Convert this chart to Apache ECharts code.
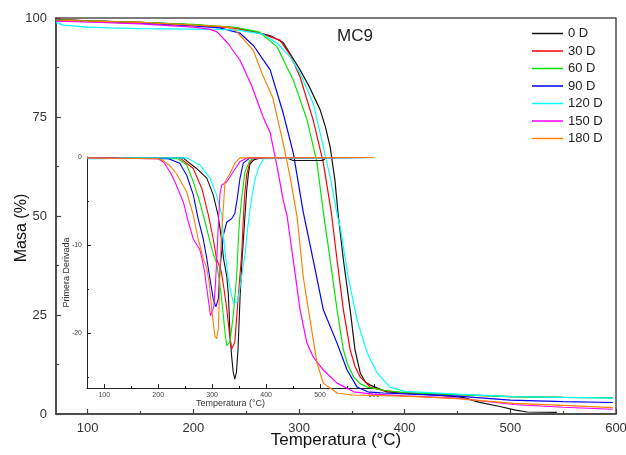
<!DOCTYPE html>
<html><head><meta charset="utf-8">
<script src="https://cdn.jsdelivr.net/npm/echarts@6/dist/echarts.min.js"></script>
<style>html,body{margin:0;padding:0;background:#fff}#c{width:626px;height:455px}</style>
</head><body><div id="c"></div><script>
const seriesNames = ['0 D','30 D','60 D','90 D','120 D','150 D','180 D'];

// Main TGA curves: [temperature °C, mass %]
const tga0D = [[70,99.6],[100,99.3],[150,98.9],[200,98.3],[240,97.6],[263,96.2],[273,95.5],[285,93.8],[301,86.9],[310,82.5],[320,76.8],[325,72.5],[329.5,67.4],[334,59],[337,50.5],[342,38.9],[348.4,26.3],[353,16.2],[358,10.3],[363,8],[367.4,7.3],[383,5.6],[400,5.3],[440,4.6],[455,4.2],[470,3],[490,1.9],[505,1],[516,0.5],[544,0.4]];
const tga30D = [[70,99.7],[100,99.3],[150,98.9],[200,98.3],[240,97.4],[265,96],[282,94.4],[292,90.5],[301,85.1],[313.4,74.2],[323,63.4],[330.5,51],[336,38.9],[342,26.3],[348.4,16.2],[353,12],[358,9.3],[367.4,6.8],[380,5.9],[400,5.3],[450,4.9],[500,4.4],[550,4.2],[597,4.1]];
const tga60D = [[70,99.6],[100,99.3],[150,98.9],[200,98.4],[240,97.6],[262,96.5],[279.3,92.7],[294.6,84.3],[307.7,74.2],[317,63.4],[323,51],[329.5,38.9],[336,26.3],[342,16.2],[346,12.5],[351.8,9.3],[358,7.6],[364.5,6.8],[380,6],[400,5.4],[450,4.9],[500,4.4],[550,4.2],[597,4.1]];
const tga90D = [[70,99.5],[100,99.1],[150,98.7],[200,98],[225,97.5],[244,96.2],[257,93],[272.7,86.9],[285,76],[294.6,65.9],[304,51],[313.4,38.9],[323,26.3],[336,17.9],[345.5,11.1],[355,6.8],[365,5.6],[380,5.3],[400,5.1],[450,4.5],[500,3.5],[550,3.1],[597,2.9]];
const tga120D = [[70,98.9],[77,98.2],[100,97.7],[121,97.5],[150,97.3],[200,97.2],[240,97],[265,96],[280,93.5],[291.6,90.2],[301,86],[313.4,78.5],[323,67.4],[329.5,59.8],[336,50.5],[339,47.2],[346.5,34.6],[355,23.7],[364.5,15.4],[374,10.3],[386.3,6.8],[400,5.7],[450,5],[500,4.4],[550,4.2],[597,4.0]];
const tga150D = [[70,99.2],[100,99],[150,98.5],[200,97.7],[215,97.2],[222.5,96.5],[233,93.5],[244,89.4],[255,83],[266,75],[272.7,71],[279.3,62.4],[285,54],[288.7,50],[294.5,38.9],[301,26.3],[307.5,17.9],[313.4,14.4],[323,11.1],[336,7.8],[351.8,5.6],[370,5],[400,4.6],[450,4],[503,2.4],[550,1.7],[597,1.2]];
const tga180D = [[70,99.5],[100,99.2],[150,98.9],[200,98.2],[225,97.9],[237.6,97.5],[248,94.5],[256.6,91.9],[265,86],[275,80],[285,68.4],[291.6,59.8],[298.2,49.7],[304,34.6],[310.5,23.7],[317,12.9],[323,7.8],[336,5.3],[350,4.8],[400,4.5],[450,3.9],[503,2.7],[550,2.2],[597,1.6]];

// Inset DTG curves: [temperature °C, first derivative]
const dtg0D = [[68,-0.1],[150,-0.1],[246,-0.1],[271,-1.3],[290,-2.4],[302,-4.3],[311,-6.6],[318,-9.6],[321,-11.5],[327,-13.5],[330,-15.5],[333,-19.9],[336,-22.5],[339,-24.4],[342,-25.2],[345,-24.4],[348,-21.8],[351.6,-16.1],[355,-12],[358,-9.3],[361,-6.5],[364,-3.8],[367,-2],[370,-0.8],[378,-0.3],[390,-0.1],[440,-0.15],[450,-0.4],[505,-0.4],[512,-0.05],[600,-0.05]];
const dtg30D = [[68,-0.1],[240,-0.1],[265,-1.3],[281,-3.6],[293,-6.6],[302,-9.3],[308,-11.5],[317,-13],[322,-15],[327,-17.2],[333,-20.6],[336,-21.8],[342,-21],[348,-16.1],[354.7,-11],[357,-8],[360,-4.5],[364,-2],[370,-0.6],[380,-0.1],[600,-0.05]];
const dtg60D = [[68,-0.1],[237,-0.2],[253,-0.9],[265,-2.8],[277,-5.1],[287,-7.4],[296,-9.6],[302,-11],[308,-12],[313,-13.8],[317.6,-16.1],[323.8,-19.9],[327,-21.4],[333,-21],[339,-18],[345.5,-13.4],[348.5,-9.5],[351,-7],[354.7,-4.7],[360.8,-1.7],[370,-0.4],[380,-0.1],[600,-0.05]];
const dtg90D = [[68,-0.1],[219,-0.2],[240,-0.7],[253,-2.1],[265,-4.3],[274,-7],[283.5,-9.3],[290,-11.5],[293,-12.7],[302,-16.1],[307,-17],[311.4,-16.1],[314.5,-12.7],[320.6,-8.9],[327,-7.4],[336,-7],[342,-6.4],[346.6,-4.7],[351.6,-2.4],[357.7,-0.7],[370,-0.1],[600,-0.05]];
const dtg120D = [[68,-0.2],[100,-0.2],[130,-0.1],[253,-0.1],[277,-0.9],[296,-2.4],[308,-4.3],[318,-6.6],[321,-9],[325,-11.5],[330,-13.8],[335,-15.5],[340,-16.6],[343,-16.8],[347,-16.4],[351.6,-14.8],[356,-13],[361,-11],[365,-8.5],[370,-6],[375,-4],[381,-2.2],[386,-1.2],[395,-0.2],[600,-0.05]];
const dtg150D = [[68,-0.1],[200,-0.2],[210,-0.6],[222,-1.7],[231,-2.8],[246.5,-5.1],[256,-7.4],[265,-9.3],[277,-10.5],[281,-11.5],[286,-13],[290,-14.9],[297,-18],[299,-18.2],[303,-17],[306,-14.5],[309,-11],[312,-7],[314.5,-4.2],[317.6,-3.2],[327,-2.8],[339,-1.7],[351.6,-0.5],[365,-0.1],[600,-0.05]];
const dtg180D = [[68,-0.1],[200,-0.2],[209,-0.4],[222,-1],[234,-1.9],[253,-4],[265,-6.6],[274,-9.3],[283.5,-11.5],[290,-12.6],[295,-14.5],[299,-17.2],[305,-20.3],[308.4,-20.6],[311.4,-19.5],[313.2,-16.1],[314.5,-12.3],[317.6,-8.5],[320.6,-5.9],[323.8,-2.8],[333,-1.9],[342,-0.7],[351.6,-0.1],[600,-0.05]];

const mainXTicks = [100,200,300,400,500,600];
const mainXMinor = [150,250,350,450,550];
const mainYTicks = [0,25,50,75,100];
const insetXTicks = [100,200,300,400,500,600];
const insetXMinor = [150,250,350,450,550];
const insetYTicks = [-20,-10,0];
const insetYMinor = [-25,-15,-5];
const chartTitle = 'MC9';

const tgaData = [tga0D,tga30D,tga60D,tga90D,tga120D,tga150D,tga180D];
const dtgData = [dtg0D,dtg30D,dtg60D,dtg90D,dtg120D,dtg150D,dtg180D];
const colors = ['#111111','#ff0000','#00e600','#0000ff','#00ffff','#ff00ff','#ff8000'];

const FONT = 'Liberation Sans, Arial, sans-serif';
const axisCol = '#404040';

const series = [];
tgaData.forEach((d,i)=>{
  series.push({name:seriesNames[i],type:'line',xAxisIndex:0,yAxisIndex:0,data:d,showSymbol:false,symbol:'none',
    itemStyle:{color:colors[i]},lineStyle:{color:colors[i],width:1.2},z:2});
});
dtgData.forEach((d,i)=>{
  series.push({name:seriesNames[i],type:'line',xAxisIndex:2,yAxisIndex:1,data:d,showSymbol:false,symbol:'none',
    itemStyle:{color:colors[i]},lineStyle:{color:colors[i],width:1.1},z:3});
});

const chart = echarts.init(document.getElementById('c'),null,{renderer:'canvas'});
chart.setOption({
  animation:false,
  backgroundColor:'#fff',
  textStyle:{fontFamily:FONT},
  grid:[
    {left:56,top:18,right:10,bottom:41,show:true,borderColor:'#505050',borderWidth:1.5,backgroundColor:'transparent',containLabel:false,outerBoundsMode:'none'},
    {left:87,top:157,width:287,height:231,containLabel:false,outerBoundsMode:'none'}
  ],
  xAxis:[
    {gridIndex:0,type:'value',min:70,max:600,position:'bottom',
     axisLine:{onZero:false,lineStyle:{color:axisCol,width:1.5}},
     axisTick:{inside:true,length:5,customValues:mainXTicks,lineStyle:{color:axisCol,width:1.2}},
     axisLabel:{customValues:mainXTicks,fontSize:13,color:'#333',margin:8,fontFamily:FONT},
     splitLine:{show:false},
     name:'Temperatura (°C)',nameLocation:'middle',nameGap:18,nameMoveOverlap:false,
     nameTextStyle:{fontSize:17,color:'#111',fontFamily:FONT}},
    {gridIndex:0,type:'value',min:70,max:600,position:'bottom',offset:0,
     axisLine:{show:false,onZero:false},
     axisTick:{inside:true,length:3,customValues:mainXMinor,lineStyle:{color:axisCol,width:1.2}},
     axisLabel:{show:false},splitLine:{show:false}},
    {gridIndex:1,type:'value',min:68,max:600,position:'bottom',
     axisLine:{onZero:false,lineStyle:{color:'#222',width:1}},
     axisTick:{inside:true,length:4,customValues:insetXTicks,lineStyle:{color:'#222'}},
     axisLabel:{customValues:insetXTicks,fontSize:7,color:'#444',margin:4,fontFamily:FONT},
     splitLine:{show:false},
     name:'Temperatura (°C)',nameLocation:'middle',nameGap:11,nameMoveOverlap:false,
     nameTextStyle:{fontSize:9,color:'#333',fontFamily:FONT}},
    {gridIndex:1,type:'value',min:68,max:600,position:'bottom',offset:0,
     axisLine:{show:false,onZero:false},
     axisTick:{inside:true,length:2,customValues:insetXMinor,lineStyle:{color:'#222'}},
     axisLabel:{show:false},splitLine:{show:false}}
  ],
  yAxis:[
    {gridIndex:0,type:'value',min:0,max:100,interval:25,
     axisLine:{show:true,onZero:false,lineStyle:{color:axisCol,width:1.5}},
     axisTick:{show:true,inside:true,length:5,lineStyle:{color:axisCol,width:1.2}},
     minorTick:{show:true,splitNumber:2,length:3,lineStyle:{color:axisCol,width:1.2}},
     axisLabel:{fontSize:13,color:'#333',margin:9,fontFamily:FONT},
     splitLine:{show:false},
     name:'Masa (%)',nameLocation:'middle',nameGap:26,nameMoveOverlap:false,
     nameTextStyle:{fontSize:16,color:'#111',fontFamily:FONT,padding:[0,24,0,0]}},
    {gridIndex:1,type:'value',min:-26.2,max:0,position:'left',
     axisLine:{show:true,onZero:false,lineStyle:{color:'#222',width:1}},
     axisTick:{show:true,inside:true,length:4,customValues:insetYTicks,lineStyle:{color:'#222'}},
     axisLabel:{customValues:insetYTicks,fontSize:7,color:'#444',margin:5,fontFamily:FONT},
     splitLine:{show:false},
     name:'Primera Derivada',nameLocation:'middle',nameGap:16,nameMoveOverlap:false,
     nameTextStyle:{fontSize:9,color:'#333',fontFamily:FONT}},
    {gridIndex:1,type:'value',min:-26.2,max:0,position:'left',offset:0,
     axisLine:{show:false,onZero:false},
     axisTick:{show:true,inside:true,length:2,customValues:insetYMinor,lineStyle:{color:'#222'}},
     axisLabel:{show:false},splitLine:{show:false}}
  ],
  legend:{orient:'vertical',left:532,top:27,padding:0,itemWidth:31,itemHeight:1.5,itemGap:4.5,icon:'rect',
    data:seriesNames,textStyle:{fontSize:13,color:'#222',fontFamily:FONT}},
  graphic:[{type:'text',left:337,top:28,style:{text:chartTitle,fontSize:17,fill:'#222',fontFamily:FONT}}],
  series:series
});
</script></body></html>
